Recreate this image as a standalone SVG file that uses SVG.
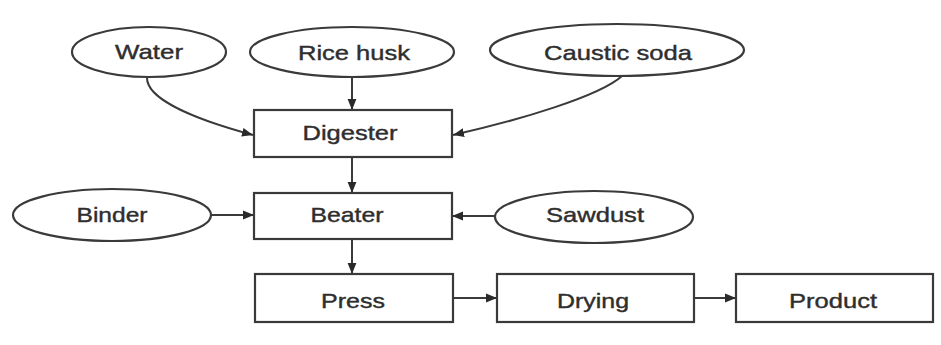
<svg xmlns="http://www.w3.org/2000/svg" width="941" height="345" viewBox="0 0 941 345">
<style>
.n{fill:#fff;stroke:#3a3a3a;stroke-width:2.2}
.t{font-family:"Liberation Sans",Arial,sans-serif;font-size:21px;fill:#2e2e2e;stroke:#2e2e2e;stroke-width:0.4;text-anchor:middle}
.c{fill:none;stroke:#3a3a3a;stroke-width:2}
</style>
<defs>
<marker id="a" viewBox="0 0 10 10" refX="10" refY="5" markerWidth="11" markerHeight="11" markerUnits="userSpaceOnUse" orient="auto">
<path d="M0,1 L10,5 L0,9 Z" fill="#2a2a2a"/>
</marker>
</defs>
<rect width="941" height="345" fill="#fff"/>
<g id="connectors">
<path class="c" d="M147,78 C147,98 190,118 253,135" marker-end="url(#a)"/>
<path class="c" d="M352,77 L352,110" marker-end="url(#a)"/>
<path class="c" d="M622,76 C600,96 520,120 453,135" marker-end="url(#a)"/>
<path class="c" d="M352,157 L352,193" marker-end="url(#a)"/>
<path class="c" d="M212,215 L254,215" marker-end="url(#a)"/>
<path class="c" d="M495,216 L452,216" marker-end="url(#a)"/>
<path class="c" d="M352,239 L352,274" marker-end="url(#a)"/>
<path class="c" d="M453,298 L497,298" marker-end="url(#a)"/>
<path class="c" d="M694,298 L736,298" marker-end="url(#a)"/>
</g>
<g id="water"><ellipse class="n" cx="149" cy="52" rx="77" ry="25"/><text class="t" x="149" y="59" textLength="68" lengthAdjust="spacingAndGlyphs">Water</text></g>
<g id="ricehusk"><ellipse class="n" cx="352" cy="52" rx="102" ry="25"/><text class="t" x="354" y="60" textLength="112" lengthAdjust="spacingAndGlyphs">Rice husk</text></g>
<g id="causticsoda"><ellipse class="n" cx="617" cy="50" rx="127" ry="26"/><text class="t" x="618" y="60" textLength="148" lengthAdjust="spacingAndGlyphs">Caustic soda</text></g>
<g id="digester"><rect class="n" x="254" y="110" width="198" height="47"/><text class="t" x="350" y="140" textLength="95" lengthAdjust="spacingAndGlyphs">Digester</text></g>
<g id="binder"><ellipse class="n" cx="112" cy="215" rx="99" ry="26"/><text class="t" x="112" y="222" textLength="71" lengthAdjust="spacingAndGlyphs">Binder</text></g>
<g id="beater"><rect class="n" x="254" y="193" width="198" height="46"/><text class="t" x="347" y="222" textLength="73" lengthAdjust="spacingAndGlyphs">Beater</text></g>
<g id="sawdust"><ellipse class="n" cx="594" cy="217" rx="99" ry="26"/><text class="t" x="595" y="222" textLength="98" lengthAdjust="spacingAndGlyphs">Sawdust</text></g>
<g id="press"><rect class="n" x="255" y="274" width="198" height="48"/><text class="t" x="353" y="308" textLength="64" lengthAdjust="spacingAndGlyphs">Press</text></g>
<g id="drying"><rect class="n" x="497" y="274" width="197" height="48"/><text class="t" x="593" y="308" textLength="72" lengthAdjust="spacingAndGlyphs">Drying</text></g>
<g id="product"><rect class="n" x="736" y="274" width="197" height="48"/><text class="t" x="833" y="308" textLength="88" lengthAdjust="spacingAndGlyphs">Product</text></g>
</svg>
